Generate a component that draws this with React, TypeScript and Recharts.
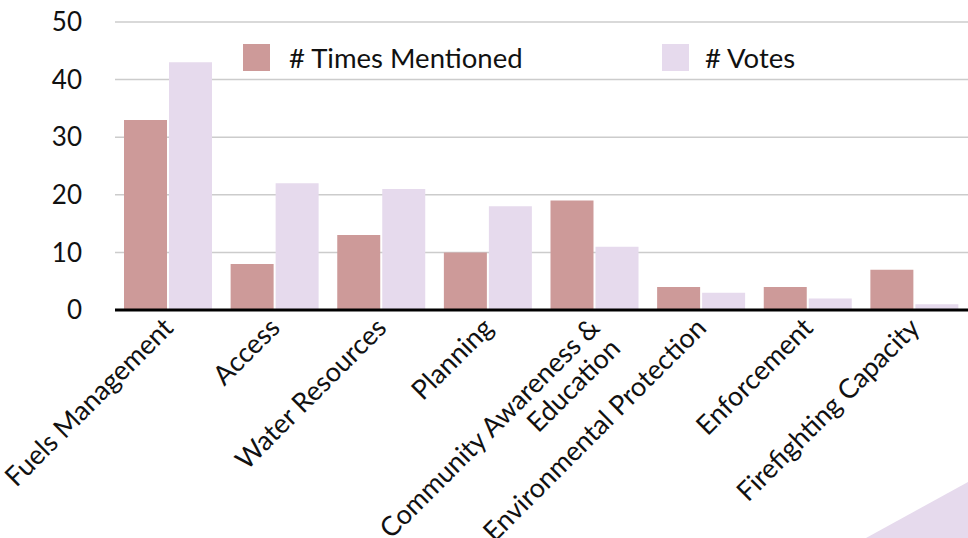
import React from 'react';
import { Bar, BarChart, CartesianGrid, XAxis, YAxis } from 'recharts';

const categories = [
  'Fuels Management',
  'Access',
  'Water Resources',
  'Planning',
  'Community Awareness &\nEducation',
  'Environmental Protection',
  'Enforcement',
  'Firefighting Capacity',
];
const timesMentioned = [33, 8, 13, 10, 19, 4, 4, 7];
const votes = [43, 22, 21, 18, 11, 3, 2, 1];
const yTicks = [0, 10, 20, 30, 40, 50];

const FONT = 'Lato, "Noto Sans", sans-serif';
const RED = '#cd9a99';
const LILAC = '#e6daed';

const data = categories.map((name, i) => ({
  name,
  mentioned: timesMentioned[i],
  votes: votes[i],
}));

function CategoryTick({ x, y, payload }: any) {
  const lines = String(payload.value).split('\n');
  return (
    <g transform={`translate(${x - 3},${y + 2})`}>
      <text transform="rotate(-45)" textAnchor="end" fontSize={27} fill="#111" fontFamily={FONT}>
        {lines.map((line, i) => (
          <tspan key={i} x={0} dy={i === 0 ? '0.5em' : '1.08em'}>
            {line}
          </tspan>
        ))}
      </text>
    </g>
  );
}

function LegendItem({ left, textLeft, color, label }: any) {
  return (
    <>
      <div style={{ position: 'absolute', left, top: 44, width: 27, height: 27, background: color }} />
      <div
        style={{
          position: 'absolute',
          left: textLeft,
          top: 44,
          height: 27,
          lineHeight: '27px',
          fontSize: 27.5,
          fontFamily: FONT,
          color: '#111',
          whiteSpace: 'nowrap',
        }}
      >
        {label}
      </div>
    </>
  );
}

export default function App() {
  return (
    <div style={{ position: 'absolute', left: 0, top: 0, width: 968, height: 538, background: '#fff' }}>
      <BarChart
        width={968}
        height={538}
        data={data}
        margin={{ top: 22, right: 0, bottom: 0, left: 0 }}
        barGap={2}
        barSize={43}
      >
        <CartesianGrid horizontal vertical={false} stroke="#cccccc" strokeWidth={1.5} />
        <XAxis
          dataKey="name"
          interval={0}
          height={228}
          tickLine={false}
          axisLine={{ stroke: '#000', strokeWidth: 3 }}
          tick={<CategoryTick />}
        />
        <YAxis
          domain={[0, 50]}
          ticks={yTicks}
          width={115}
          tickLine={false}
          axisLine={false}
          tickSize={0}
          tickMargin={33}
          tick={{ fill: '#111', fontSize: 26, fontFamily: FONT }}
        />
        <Bar dataKey="mentioned" name="# Times Mentioned" fill={RED} isAnimationActive={false} />
        <Bar dataKey="votes" name="# Votes" fill={LILAC} isAnimationActive={false} />
      </BarChart>
      <LegendItem left={243} textLeft={289} color={RED} label="# Times Mentioned" />
      <LegendItem left={662} textLeft={705} color={LILAC} label="# Votes" />
      <svg
        width={968}
        height={538}
        style={{ position: 'absolute', left: 0, top: 0, pointerEvents: 'none' }}
      >
        <polygon points="866,538 968,482 968,538" fill={LILAC} />
      </svg>
    </div>
  );
}
